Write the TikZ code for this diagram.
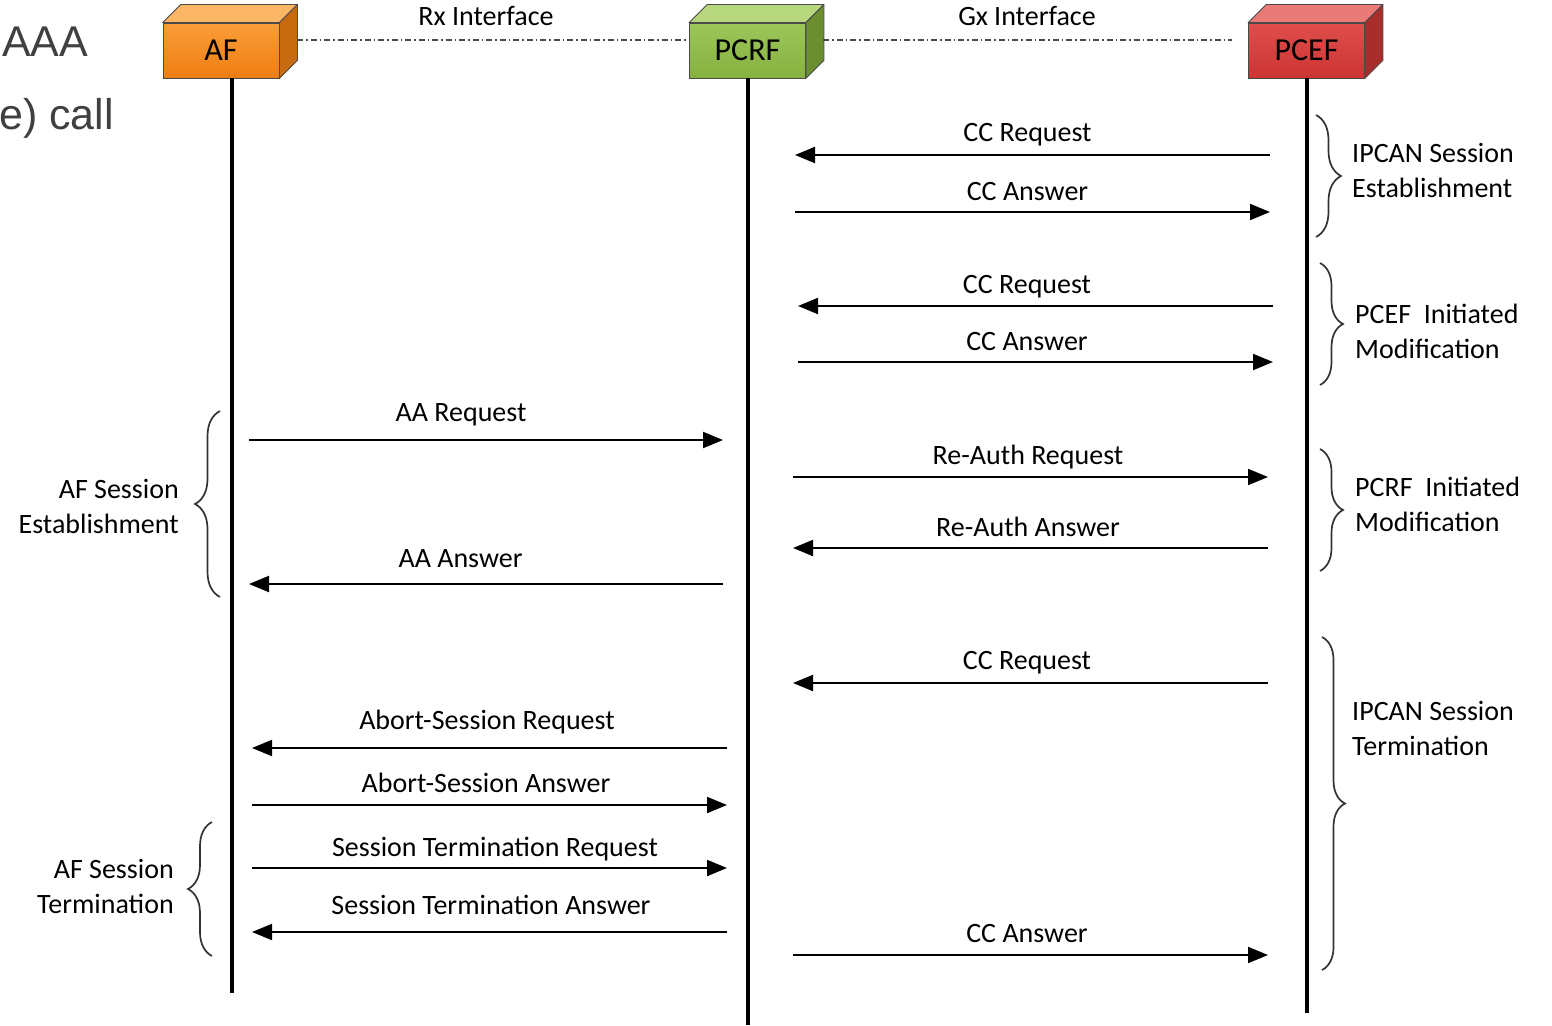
\documentclass[tikz,border=0pt]{standalone}
\usepackage{fontspec}
\setmainfont{Carlito}
\newfontfamily\slidefont{Liberation Sans}
\usetikzlibrary{arrows.meta,decorations.pathreplacing,calc}

\definecolor{afTop}{HTML}{FBB766}
\definecolor{afFrontA}{HTML}{FA9D38}
\definecolor{afFrontB}{HTML}{EE7D12}
\definecolor{afSide}{HTML}{C86A10}
\definecolor{pcrfTop}{HTML}{B6D77E}
\definecolor{pcrfFrontA}{HTML}{9CC65A}
\definecolor{pcrfFrontB}{HTML}{86B13F}
\definecolor{pcrfSide}{HTML}{6B8F2F}
\definecolor{pcefTop}{HTML}{E97A78}
\definecolor{pcefFrontA}{HTML}{DF4E4B}
\definecolor{pcefFrontB}{HTML}{CC3533}
\definecolor{pcefSide}{HTML}{A72E2C}
\definecolor{edge}{HTML}{4A4A4A}
\definecolor{bracecol}{HTML}{333333}
\definecolor{slidegray}{HTML}{404040}

\tikzset{
  entitybox/.style={draw=edge, line width=0.8pt, minimum width=116pt, minimum height=55pt,
    inner sep=0pt, font=\fontsize{32}{36}\selectfont, text=black},
  face/.style={draw=edge, line width=0.8pt, line join=round},
  lifeline/.style={line width=4pt, black},
  iface/.style={line width=1.4pt, edge, dash pattern=on 6pt off 3pt on 1.5pt off 3pt},
  msgline/.style={line width=2pt, black, -{Triangle[length=20pt,width=16pt]}},
  msglabel/.style={anchor=base, inner sep=0pt, text=black, font=\fontsize{28}{34}\selectfont},
  bracket/.style={line width=1.7pt, bracecol, decorate, decoration={brace, amplitude=#1}},
  bracetext/.style={inner sep=0pt, font=\fontsize{28}{35}\selectfont},
}

% one message: id, y, start x, end x, text, label centre x, label baseline height above the arrow
\newcommand{\sendmsg}[7]{%
  \coordinate (#1s) at (#3,#2);
  \coordinate (#1e) at (#4,#2);
  \draw[msgline] (#1s) -- (#1e);
  \node[msglabel] (#1t) at (#6,#2-#7) {#5};
}

% 3D faces of an entity box: node name, top colour, side colour
\newcommand{\cubefaces}[3]{%
  \filldraw[face, fill=#2] (#1.north west) -- ++(18,-18) -- ($(#1.north east)+(18,-18)$) -- (#1.north east) -- cycle;
  \filldraw[face, fill=#3] (#1.north east) -- ++(18,-18) -- ($(#1.south east)+(18,-18)$) -- (#1.south east) -- cycle;
}

\begin{document}
\begin{tikzpicture}[x=1pt,y=-1pt]
\useasboundingbox[fill=white] (0,0) rectangle (1552,1025);

% leftover slide text
\node[anchor=west, inner sep=0pt, text=slidegray, font=\slidefont\fontsize{43}{48}\selectfont] (aaa) at (2,42) {AAA};
\node[anchor=west, inner sep=0pt, text=slidegray, font=\slidefont\fontsize{43}{48}\selectfont] (call) at (-1,118) {e) call};

% entities
\node[entitybox, top color=afFrontA, bottom color=afFrontB] (af) at (221,50.5) {\raisebox{-2pt}{AF}};
\node[entitybox, top color=pcrfFrontA, bottom color=pcrfFrontB] (pcrf) at (747.5,50.5) {\raisebox{-2pt}{PCRF}};
\node[entitybox, top color=pcefFrontA, bottom color=pcefFrontB] (pcef) at (1306.5,50.5) {\raisebox{-2pt}{PCEF}};
\cubefaces{af}{afTop}{afSide}
\cubefaces{pcrf}{pcrfTop}{pcrfSide}
\cubefaces{pcef}{pcefTop}{pcefSide}

% interfaces
\coordinate (rxA) at (297,40);
\coordinate (rxB) at (688,40);
\coordinate (gxA) at (823,40);
\coordinate (gxB) at (1232,40);
\draw[iface] (rxA) -- (rxB);
\draw[iface] (gxA) -- (gxB);
\node[msglabel] (rx) at (486,26) {Rx Interface};
\node[msglabel] (gx) at (1027,26) {Gx Interface};

% lifelines
\coordinate (afEnd) at (232,993);
\coordinate (pcrfEnd) at (748,1025);
\coordinate (pcefEnd) at (1307,1013);
\draw[lifeline] (af.south -| afEnd) -- (afEnd);
\draw[lifeline] (pcrf.south -| pcrfEnd) -- (pcrfEnd);
\draw[lifeline] (pcef.south -| pcefEnd) -- (pcefEnd);

% messages
\sendmsg{m1}{155}{1270}{795}{CC Request}{1027.5}{14}
\sendmsg{m2}{212}{795}{1270}{CC Answer}{1027.5}{12}
\sendmsg{m3}{306}{1273}{798}{CC Request}{1027}{13}
\sendmsg{m4}{362}{798}{1273}{CC Answer}{1027}{12}
\sendmsg{m5}{440}{249}{723}{AA Request}{461}{19}
\sendmsg{m6}{477}{793}{1268}{Re-Auth Request}{1028}{13}
\sendmsg{m7}{548}{1268}{793}{Re-Auth Answer}{1028}{12}
\sendmsg{m8}{584}{723}{249}{AA Answer}{460.5}{17}
\sendmsg{m9}{683}{1268}{793}{CC Request}{1027}{14}
\sendmsg{m10}{748}{727}{252}{Abort-Session Request}{487}{19}
\sendmsg{m11}{805}{252}{727}{Abort-Session Answer}{486}{13}
\sendmsg{m12}{868}{252}{727}{Session Termination Request}{495}{12}
\sendmsg{m13}{932}{727}{252}{Session Termination Answer}{491}{18}
\sendmsg{m14}{955}{793}{1268}{CC Answer}{1027}{13}

% phase braces, right side
\coordinate (b1a) at (1316,115); \coordinate (b1b) at (1316,237);
\coordinate (b2a) at (1320,263); \coordinate (b2b) at (1320,385);
\coordinate (b3a) at (1320,449); \coordinate (b3b) at (1320,571);
\coordinate (b4a) at (1322,637); \coordinate (b4b) at (1322,970);
\draw[bracket=25pt] (b1a) -- (b1b);
\draw[bracket=23pt] (b2a) -- (b2b);
\draw[bracket=23pt] (b3a) -- (b3b);
\draw[bracket=23pt] (b4a) -- (b4b);
\node[bracetext, anchor=west, align=left] (t1) at (1352,170) {IPCAN Session\\Establishment};
\node[bracetext, anchor=west, align=left] (t2) at (1355,331) {PCEF\ \ Initiated\\Modification};
\node[bracetext, anchor=west, align=left] (t3) at (1355,504) {PCRF\ \ Initiated\\Modification};
\node[bracetext, anchor=west, align=left] (t4) at (1352,728) {IPCAN Session\\Termination};

% phase braces, left side
\coordinate (b5a) at (220,597); \coordinate (b5b) at (220,411);
\coordinate (b6a) at (212,956); \coordinate (b6b) at (212,822);
\draw[bracket=25pt] (b5a) -- (b5b);
\draw[bracket=24pt] (b6a) -- (b6b);
\node[bracetext, anchor=east, align=right] (t5) at (179,506) {AF Session\\Establishment};
\node[bracetext, anchor=east, align=right] (t6) at (174,886) {AF Session\\Termination};
\end{tikzpicture}
\end{document}
